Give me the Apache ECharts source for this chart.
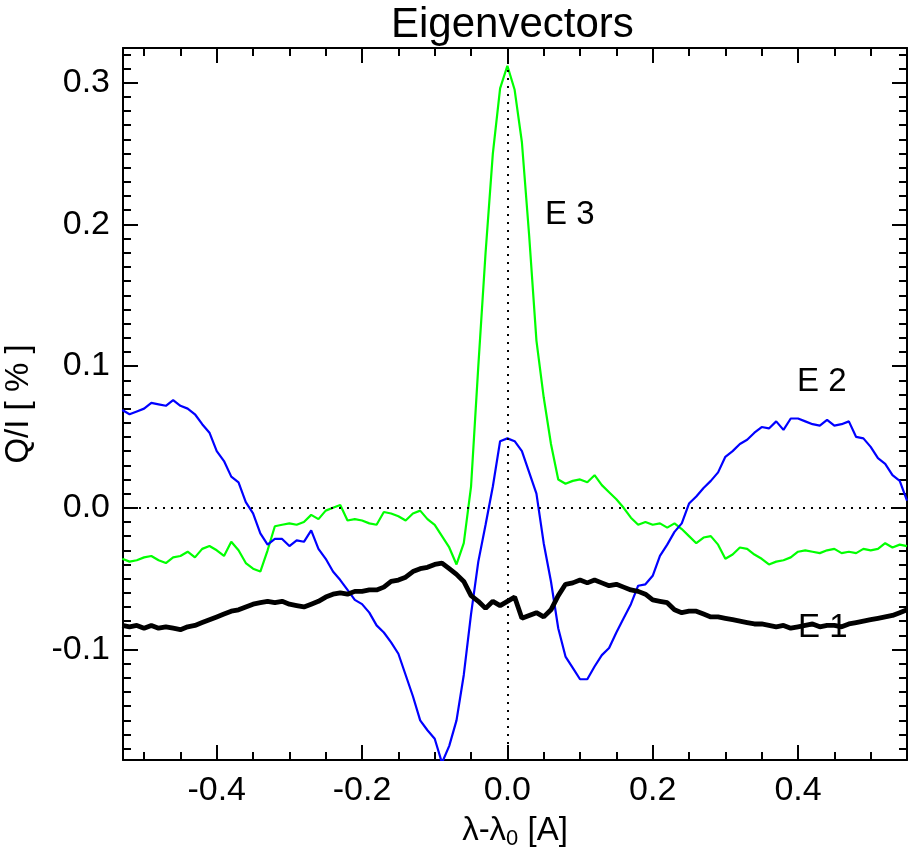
<!DOCTYPE html>
<html lang="en">
<head>
    <meta charset="UTF-8">
    <title>Eigenvectors</title>
    <script src="https://cdn.jsdelivr.net/npm/echarts@6/dist/echarts.min.js"></script>
    <style>
        * {
            margin: 0;
            padding: 0;
        }

        html, body {
            width: 100%;
            height: 100%;
            overflow: hidden;
            background: #fff;
        }

        .box {
            width: 911px;
            height: 853px;
        }
    </style>
</head>
<body>
<div class="box"></div>
<script>
    // wavelength offset grid (A), step 0.01
    let lambda = [];
    for (let i = -53; i <= 55; i++) lambda.push(i / 100);

    // E 1 (black, thick)
    let e1 = [
        -0.083, -0.084, -0.083, -0.085, -0.083, -0.085, -0.084, -0.085, -0.086, -0.084,
        -0.083, -0.081, -0.079, -0.077, -0.075, -0.073, -0.072, -0.070, -0.068, -0.067,
        -0.066, -0.067, -0.066, -0.068, -0.069, -0.070, -0.068, -0.066, -0.063, -0.061,
        -0.060, -0.061, -0.059, -0.059, -0.058, -0.058, -0.056, -0.052, -0.051, -0.049,
        -0.045, -0.043, -0.042, -0.040, -0.039, -0.043, -0.047, -0.052, -0.062, -0.066,
        -0.071, -0.066, -0.069, -0.066, -0.063, -0.078, -0.076, -0.074, -0.077, -0.072,
        -0.062, -0.054, -0.053, -0.051, -0.053, -0.051, -0.053, -0.055, -0.054, -0.056,
        -0.058, -0.059, -0.061, -0.065, -0.066, -0.067, -0.072, -0.074, -0.073, -0.073,
        -0.075, -0.077, -0.077, -0.078, -0.079, -0.080, -0.081, -0.082, -0.082, -0.083,
        -0.084, -0.083, -0.085, -0.084, -0.083, -0.082, -0.084, -0.083, -0.083, -0.084,
        -0.082, -0.081, -0.080, -0.079, -0.078, -0.077, -0.076, -0.074, -0.072
    ];

    // E 2 (blue)
    let e2 = [
        0.069, 0.066, 0.068, 0.070, 0.074, 0.073, 0.072, 0.076, 0.072, 0.070,
        0.066, 0.059, 0.053, 0.040, 0.033, 0.022, 0.018, 0.004, -0.004, -0.018,
        -0.026, -0.022, -0.022, -0.027, -0.023, -0.024, -0.016, -0.029, -0.036, -0.045,
        -0.051, -0.058, -0.065, -0.068, -0.074, -0.083, -0.088, -0.095, -0.103, -0.118,
        -0.133, -0.150, -0.157, -0.163, -0.180, -0.168, -0.150, -0.118, -0.075, -0.038,
        -0.012, 0.015, 0.047, 0.049, 0.047, 0.040, 0.025, 0.010, -0.025, -0.052,
        -0.085, -0.105, -0.113, -0.121, -0.121, -0.112, -0.104, -0.099, -0.088, -0.078,
        -0.068, -0.055, -0.054, -0.048, -0.034, -0.026, -0.017, -0.011, 0.003, 0.008,
        0.014, 0.019, 0.025, 0.036, 0.040, 0.045, 0.048, 0.053, 0.057, 0.056,
        0.061, 0.055, 0.063, 0.063, 0.061, 0.059, 0.058, 0.062, 0.058, 0.059,
        0.061, 0.050, 0.049, 0.043, 0.035, 0.031, 0.023, 0.019, 0.005
    ];

    // E 3 (green)
    let e3 = [
        -0.036, -0.038, -0.037, -0.035, -0.034, -0.037, -0.039, -0.035, -0.034, -0.031,
        -0.035, -0.029, -0.027, -0.030, -0.034, -0.024, -0.030, -0.039, -0.043, -0.045,
        -0.030, -0.013, -0.012, -0.011, -0.012, -0.010, -0.005, -0.008, -0.002, 0.000,
        0.002, -0.009, -0.008, -0.009, -0.011, -0.012, -0.003, -0.004, -0.006, -0.009,
        -0.004, -0.002, -0.008, -0.012, -0.020, -0.028, -0.040, -0.025, 0.015, 0.100,
        0.180, 0.250, 0.296, 0.312, 0.295, 0.258, 0.192, 0.118, 0.078, 0.045,
        0.020, 0.017, 0.019, 0.020, 0.018, 0.023, 0.016, 0.011, 0.006, 0.000,
        -0.007, -0.012, -0.010, -0.012, -0.011, -0.014, -0.011, -0.015, -0.020, -0.025,
        -0.021, -0.020, -0.026, -0.036, -0.033, -0.028, -0.029, -0.033, -0.036, -0.040,
        -0.038, -0.037, -0.035, -0.031, -0.030, -0.031, -0.032, -0.030, -0.029, -0.032,
        -0.031, -0.032, -0.029, -0.030, -0.029, -0.025, -0.028, -0.026, -0.027
    ];

    let xTicks = [-0.4, -0.2, 0.0, 0.2, 0.4];
    let yTicks = [-0.1, 0.0, 0.1, 0.2, 0.3];

    let font = 'Liberation Sans, Arial, Helvetica, sans-serif';
    let pair = arr => lambda.map((x, i) => [x, arr[i]]);

    let chart = echarts.init(document.querySelector('.box'), null, {renderer: 'canvas'});

    let tickCommon = {
        axisLine: {show: true, onZero: false, lineStyle: {color: '#000', width: 2}},
        axisTick: {show: true, inside: true, length: 15, lineStyle: {color: '#000', width: 2}},
        minorTick: {show: true, length: 8, lineStyle: {color: '#000', width: 2}},
        splitLine: {show: false},
        minorSplitLine: {show: false}
    };

    let xBase = {
        type: 'value', min: -0.529, max: 0.55, splitNumber: 5,
        ...tickCommon,
        minorTick: {...tickCommon.minorTick, splitNumber: 4}
    };
    let yBase = {
        type: 'value', min: -0.178, max: 0.3245, splitNumber: 5,
        ...tickCommon,
        minorTick: {...tickCommon.minorTick, splitNumber: 10}
    };

    let option = {
        backgroundColor: '#fff',
        animation: false,
        title: {
            text: 'Eigenvectors',
            left: 386, top: -1,
            textStyle: {fontFamily: font, fontSize: 42, fontWeight: 'normal', color: '#000'}
        },
        grid: {left: 123, right: 4, top: 48, bottom: 93, containLabel: false, outerBoundsMode: 'none'},
        xAxis: [{
            ...xBase,
            position: 'bottom',
            axisLabel: {
                show: true, margin: 14, color: '#000', fontFamily: font, fontSize: 34,
                showMinLabel: false, showMaxLabel: false,
                formatter: v => xTicks.some(t => Math.abs(t - v) < 1e-9) ? v.toFixed(1) : ''
            },
            name: '{t|λ-λ}{s|0}{t| [A]}',
            nameLocation: 'middle',
            nameGap: 52,
            nameTextStyle: {
                rich: {
                    t: {fontFamily: font, fontSize: 33, color: '#000'},
                    s: {fontFamily: font, fontSize: 22, color: '#000', padding: [16, 0, 0, 0]}
                }
            }
        }, {
            ...xBase,
            position: 'top',
            axisLabel: {show: false}
        }],
        yAxis: [{
            ...yBase,
            position: 'left',
            axisLabel: {
                show: true, margin: 13, color: '#000', fontFamily: font, fontSize: 34,
                showMinLabel: false, showMaxLabel: false,
                formatter: v => yTicks.some(t => Math.abs(t - v) < 1e-9) ? v.toFixed(1) : ''
            },
            name: 'Q/I [ % ]',
            nameLocation: 'middle',
            nameRotate: 90,
            nameGap: 88,
            nameTextStyle: {fontFamily: font, fontSize: 33, color: '#000'}
        }, {
            ...yBase,
            position: 'right',
            axisLabel: {show: false}
        }],
        series: [{
            name: 'E 3',
            type: 'line',
            data: pair(e3),
            symbol: 'none',
            clip: true,
            lineStyle: {color: '#00ff00', width: 2.2},
            markLine: {
                silent: true,
                symbol: 'none',
                label: {show: false},
                lineStyle: {color: '#000', width: 2, type: [2, 6]},
                data: [{xAxis: 0}, {yAxis: 0}]
            }
        }, {
            name: 'E 2',
            type: 'line',
            data: pair(e2),
            symbol: 'none',
            clip: true,
            lineStyle: {color: '#0000ff', width: 2.2}
        }, {
            name: 'E 1',
            type: 'line',
            data: pair(e1),
            symbol: 'none',
            clip: true,
            lineStyle: {color: '#000', width: 4.8}
        }],
        graphic: [
            {type: 'text', left: 545, top: 198, style: {text: 'E 3', font: '33px ' + font, fill: '#000'}},
            {type: 'text', left: 797, top: 365, style: {text: 'E 2', font: '33px ' + font, fill: '#000'}},
            {type: 'text', left: 798, top: 611, style: {text: 'E 1', font: '33px ' + font, fill: '#000'}}
        ]
    };

    chart.setOption(option);
</script>
</body>
</html>
